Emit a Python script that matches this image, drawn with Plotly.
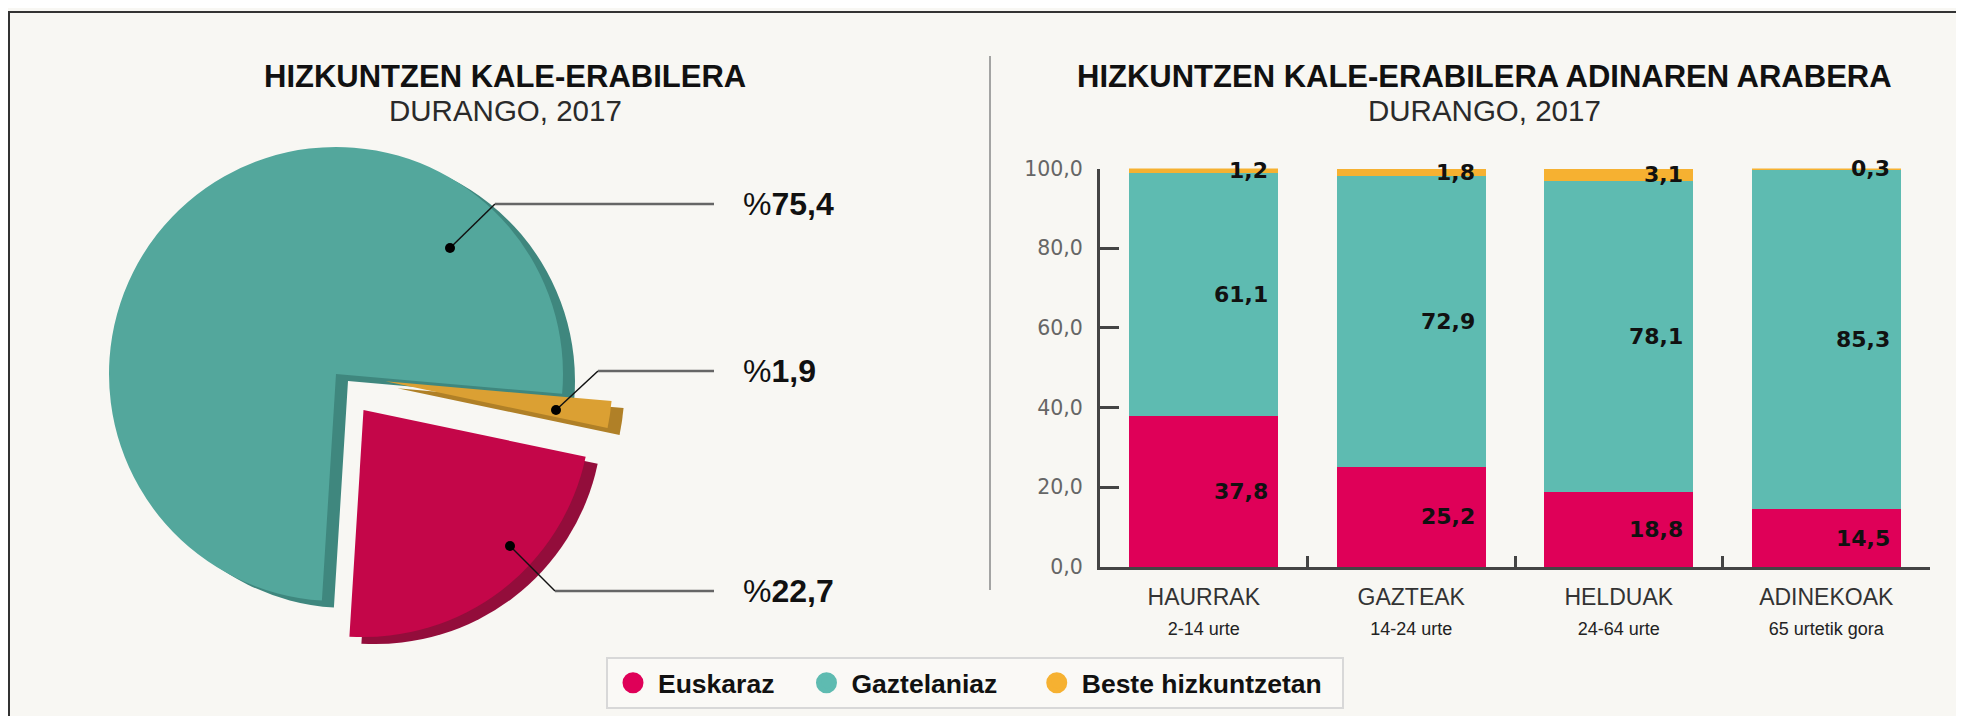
import plotly.graph_objects as go

# page is 1964x724; the default body margin (8px) surrounds the figure
PAGE_W, PAGE_H, M = 1964, 724, 8
W, H = PAGE_W - 2 * M, PAGE_H - 2 * M

# ---------------- data ----------------
pie_labels = ["Beste hizkuntzetan", "Euskaraz", "Gaztelaniaz"]
pie_values = [1.9, 22.7, 75.4]

age_groups = ["HAURRAK", "GAZTEAK", "HELDUAK", "ADINEKOAK"]
age_ranges = ["2-14 urte", "14-24 urte", "24-64 urte", "65 urtetik gora"]
euskaraz = [37.8, 25.2, 18.8, 14.5]
gaztelaniaz = [61.1, 72.9, 78.1, 85.3]
beste = [1.2, 1.8, 3.1, 0.3]
y_ticks = [0, 20, 40, 60, 80, 100]

legend_names = ["Euskaraz", "Gaztelaniaz", "Beste hizkuntzetan"]
title_left = "HIZKUNTZEN KALE-ERABILERA"
title_right = "HIZKUNTZEN KALE-ERABILERA ADINAREN ARABERA"
subtitle = "DURANGO, 2017"

# ---------------- style ----------------
C_EUS, C_GAZ, C_BES = "#df0058", "#5ebbb1", "#f6b131"
PIE_TOP = {"Euskaraz": "#c40649", "Gaztelaniaz": "#53a79c", "Beste hizkuntzetan": "#dba033"}
PIE_SIDE = {"Euskaraz": "#930d3b", "Gaztelaniaz": "#3f877e", "Beste hizkuntzetan": "#b08027"}
BG = "#f8f7f3"
SANS = "Liberation Sans, Arial, sans-serif"
DEJA = "DejaVu Sans, sans-serif"


def px(x):
    return (x - M) / W


def py(y):
    return 1 - (y - M) / H


def fmt(v):
    return f"{v:.1f}".replace(".", ",")


fig = go.Figure()

# ---------------- pie (with a darker offset copy for depth) ----------------
cx, cy, r = 336, 374, 227
pull = [0.22, 0.2, 0.0]
half = r * (1 + max(pull))
for (sx, sy), cmap in [((12, 7), PIE_SIDE), ((0, 0), PIE_TOP)]:
    fig.add_trace(go.Pie(
        labels=pie_labels, values=pie_values, sort=False, direction="clockwise",
        rotation=95, pull=pull, textinfo="none", showlegend=False,
        marker=dict(colors=[cmap[l] for l in pie_labels], line=dict(width=0)),
        domain=dict(x=[px(cx + sx - half), px(cx + sx + half)],
                    y=[py(cy + sy + half), py(cy + sy - half)]),
        hoverinfo="label+value",
    ))

# ---------------- stacked bars ----------------
for name, vals, col in [("Euskaraz", euskaraz, C_EUS),
                        ("Gaztelaniaz", gaztelaniaz, C_GAZ),
                        ("Beste hizkuntzetan", beste, C_BES)]:
    fig.add_trace(go.Bar(x=age_groups, y=vals, name=name, marker=dict(color=col, line=dict(width=0)),
                         showlegend=False, hovertemplate="%{x}: %{y}<extra>" + name + "</extra>"))

# legend entries (round markers)
pad = {"Euskaraz": 3, "Gaztelaniaz": 4, "Beste hizkuntzetan": 2}
for name, col in zip(legend_names, [C_EUS, C_GAZ, C_BES]):
    fig.add_trace(go.Scatter(x=[None], y=[None], mode="markers",
                             name=f"<b>{name}</b>" + "\u00a0" * pad[name],
                             marker=dict(size=16, color=col, symbol="circle", line=dict(width=5, color=col))))

annotations = []
# bar value labels
for i in range(len(age_groups)):
    base = 0.0
    for vals in (euskaraz, gaztelaniaz, beste):
        v = vals[i]
        annotations.append(dict(x=i, y=base + v / 2, xref="x", yref="y", text=f"<b>{fmt(v)}</b>",
                                showarrow=False, xanchor="right", yanchor="middle", xshift=66,
                                font=dict(family=DEJA, size=22, color="#111")))
        base += v

# titles
for xc, t in [(505, title_left), (1484, title_right)]:
    annotations.append(dict(x=px(xc), y=py(76), xref="paper", yref="paper", text=f"<b>{t}</b>",
                            showarrow=False, xanchor="center", yanchor="middle",
                            font=dict(family=SANS, size=31, color="#111")))
    annotations.append(dict(x=px(xc), y=py(110), xref="paper", yref="paper", text=subtitle,
                            showarrow=False, xanchor="center", yanchor="middle",
                            font=dict(family=SANS, size=29.5, color="#2a2a2a")))

# frame, divider, pie labels with leader lines
shapes = [
    dict(type="rect", xref="paper", yref="paper", x0=px(9), x1=1.05, y0=-0.05, y1=py(12),
         fillcolor=BG, line=dict(color="#333", width=2), layer="below"),
    dict(type="line", xref="paper", yref="paper", x0=px(990), x1=px(990), y0=py(590), y1=py(56),
         line=dict(color="#888", width=1.5)),
]
leaders = {  # label: (dot, elbow) positions in px; text row at elbow height
    "Gaztelaniaz": ((450, 248), (495, 204)),
    "Beste hizkuntzetan": ((556, 410), (598, 371)),
    "Euskaraz": ((510, 546), (555, 591)),
}
for lab, val in zip(pie_labels, pie_values):
    (dxp, dyp), (ex, ey) = leaders[lab]
    shapes.append(dict(type="line", xref="paper", yref="paper", x0=px(dxp), y0=py(dyp), x1=px(ex), y1=py(ey),
                       line=dict(color="#111", width=1.5)))
    shapes.append(dict(type="line", xref="paper", yref="paper", x0=px(ex), y0=py(ey), x1=px(714), y1=py(ey),
                       line=dict(color="#666", width=2.5)))
    shapes.append(dict(type="circle", xref="paper", yref="paper", x0=px(dxp - 5), x1=px(dxp + 5),
                       y0=py(dyp + 5), y1=py(dyp - 5), fillcolor="#000", line=dict(width=0)))
    annotations.append(dict(x=px(741), y=py(ey), xref="paper", yref="paper",
                            text=f"%<b>{fmt(val)}</b>", showarrow=False, xanchor="left", yanchor="middle",
                            font=dict(family=SANS, size=32, color="#111")))

fig.update_layout(
    width=W, height=H, margin=dict(l=0, r=0, t=0, b=0, autoexpand=False),
    paper_bgcolor=BG, plot_bgcolor="rgba(0,0,0,0)",
    separators=", ", barmode="stack", bargap=0.284,
    font=dict(family=SANS, color="#222"),
    xaxis=dict(domain=[px(1100), px(1930)], type="category", categoryorder="array", categoryarray=age_groups,
               tickmode="array", tickvals=age_groups,
               ticktext=[f"{g}<br><span style='font-size:18px;color:#222'>{s}</span>"
                         for g, s in zip(age_groups, age_ranges)],
               tickson="boundaries", ticks="inside", ticklen=11, tickwidth=2.5, tickcolor="#444",
               showline=True, linewidth=3, linecolor="#444", showgrid=False, zeroline=False,
               automargin=False,
               tickfont=dict(family=SANS, size=23, color="#333"), ticklabelstandoff=7),
    yaxis=dict(domain=[py(567), py(168.5)], range=[0, 100], tickmode="array", tickvals=y_ticks,
               tickformat=".1f", ticks="inside", ticklen=19, tickwidth=2.5, tickcolor="#444",
               showline=True, linewidth=3, linecolor="#444", showgrid=False, zeroline=False,
               automargin=False,
               tickfont=dict(family=DEJA, size=20.5, color="#666"), ticklabelstandoff=10),
    legend=dict(orientation="h", traceorder="normal", x=px(606), xanchor="left", y=py(657), yanchor="top",
                bgcolor="#faf9f6", bordercolor="#d8d8d8", borderwidth=2, itemwidth=40,
                font=dict(family=SANS, size=26.5, color="#111")),
    annotations=annotations, shapes=shapes,
)

fig.write_html("out.html", config={"displayModeBar": False})
